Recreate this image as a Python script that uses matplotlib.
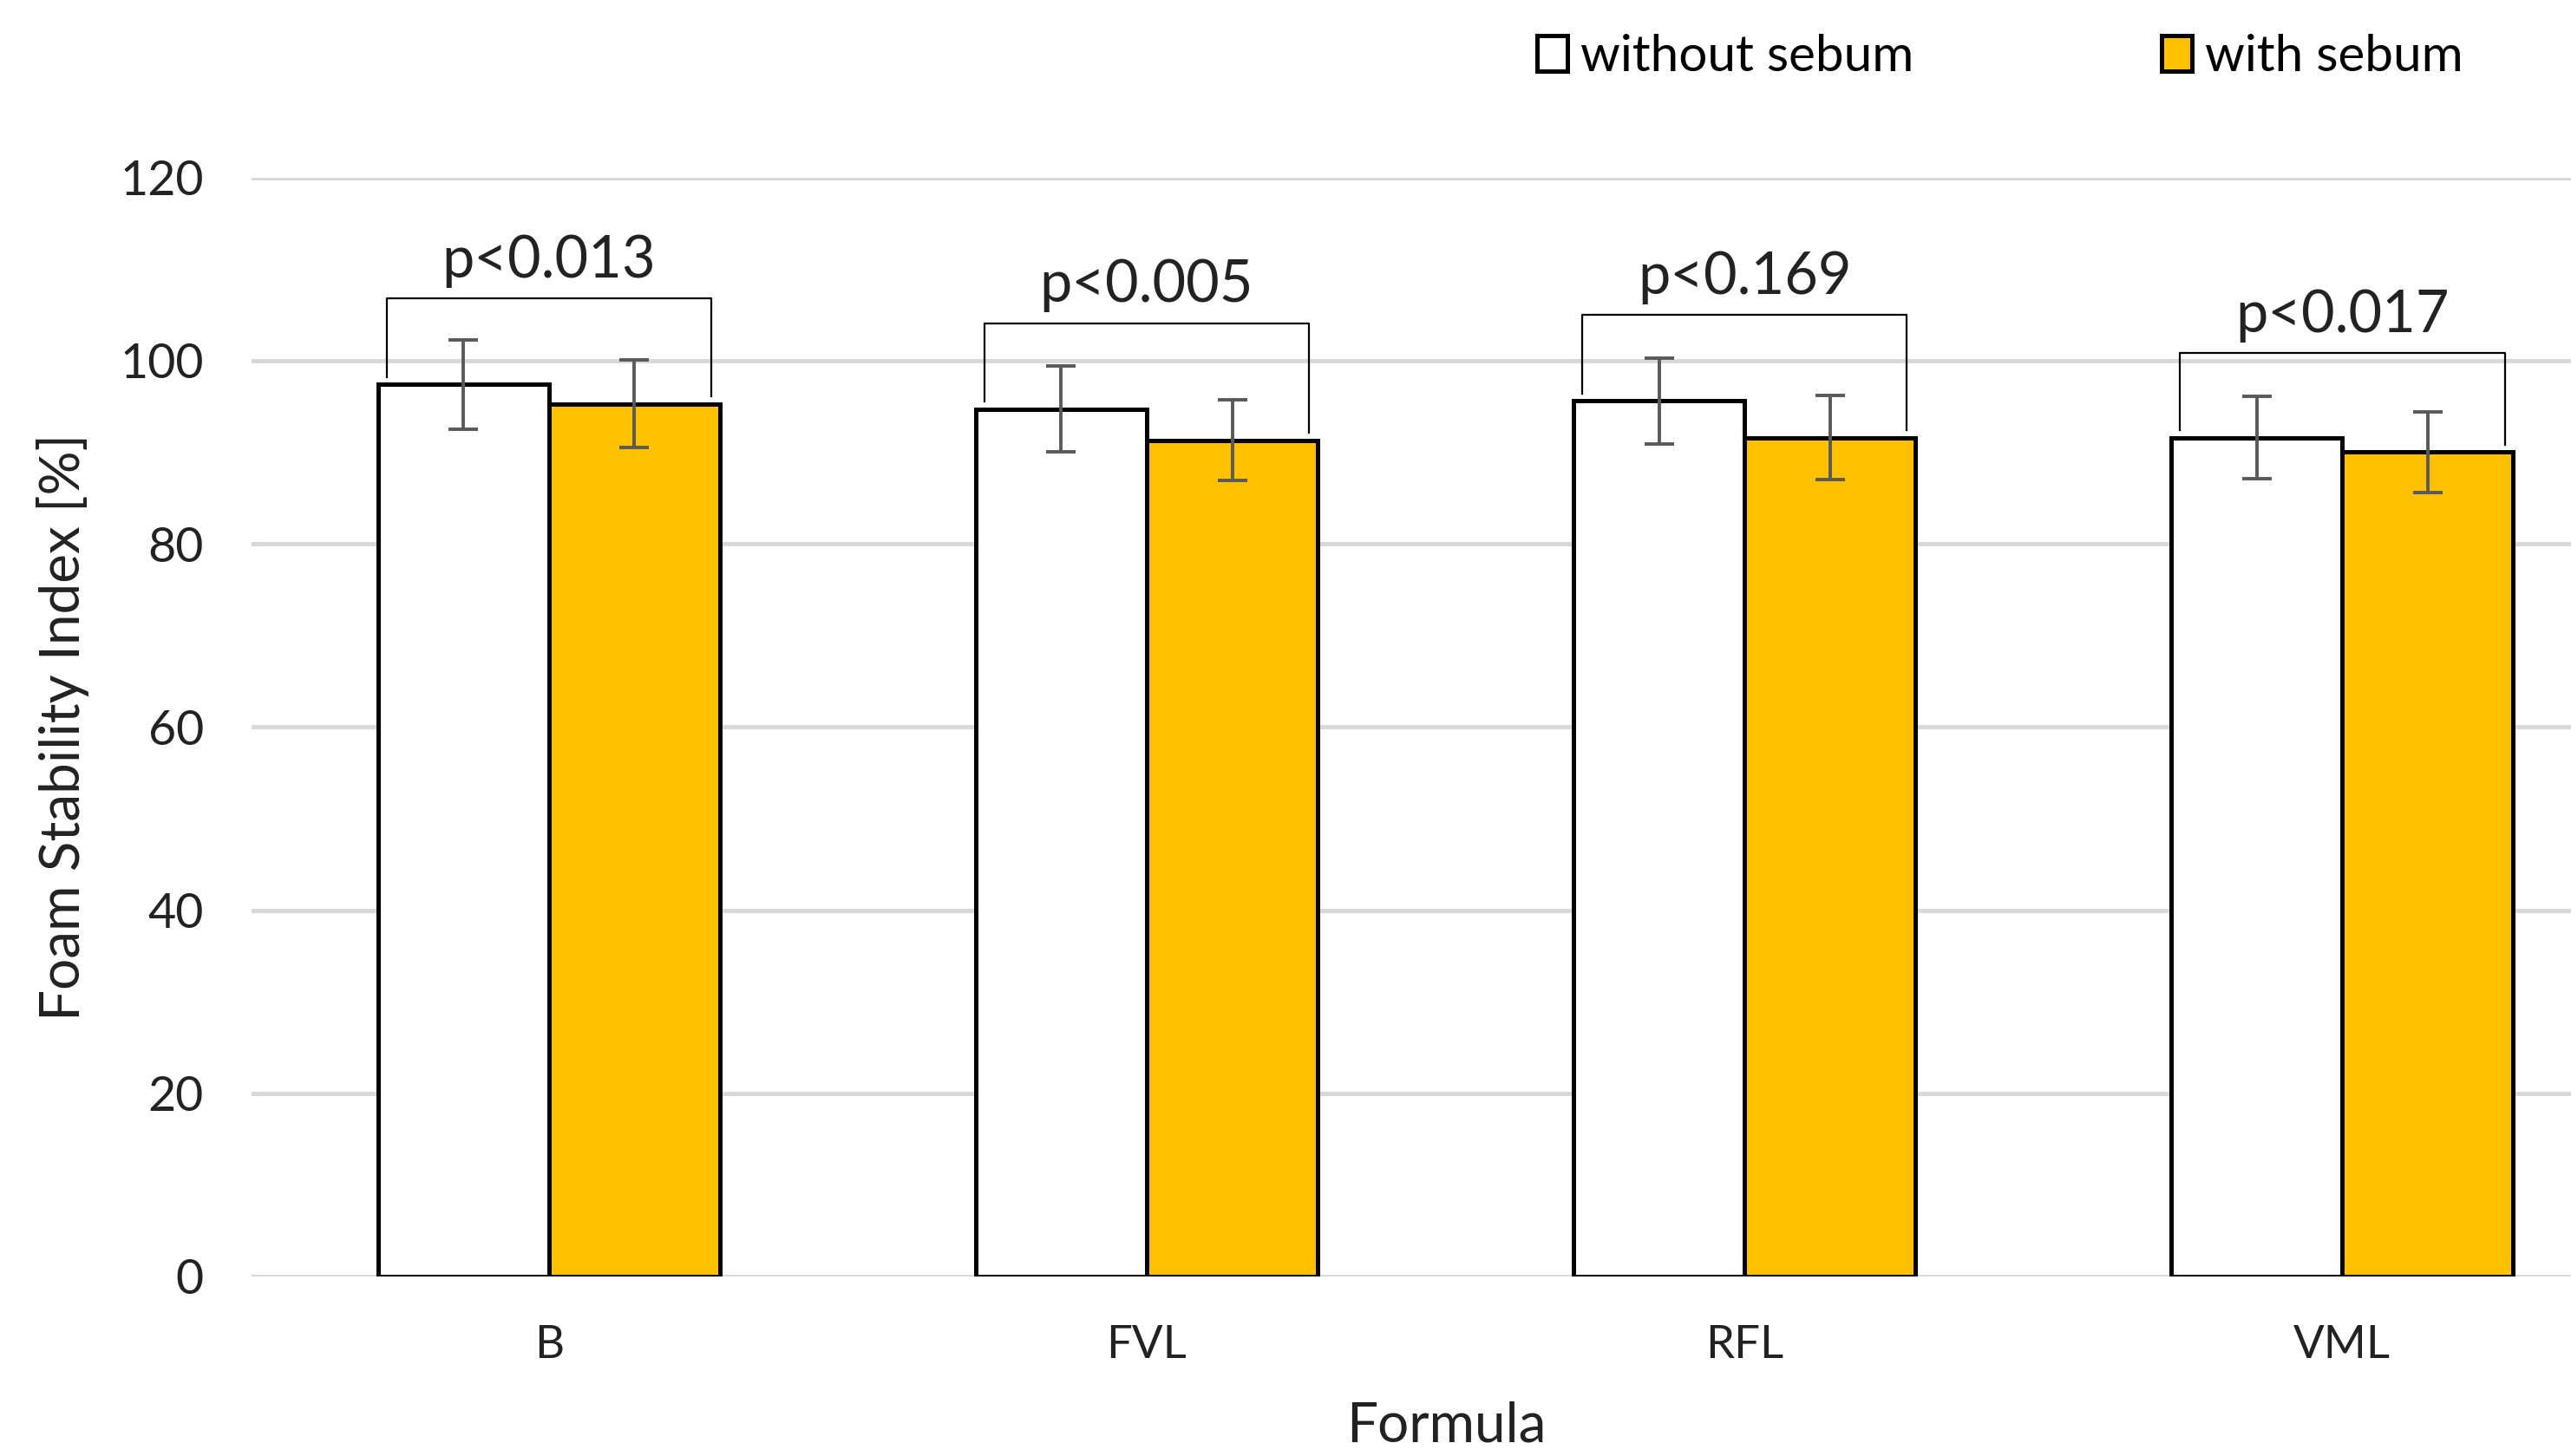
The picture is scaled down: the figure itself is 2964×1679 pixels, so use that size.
import matplotlib.pyplot as plt
import numpy as np
from matplotlib.patches import Patch

plt.rcParams["font.family"] = ["Lato", "DejaVu Sans"]

# Data
formulas = ["B", "FVL", "RFL", "VML"]
without_sebum = [97.4, 94.7, 95.6, 91.6]
without_err = [4.9, 4.7, 4.7, 4.5]
with_sebum = [95.3, 91.3, 91.6, 90.0]
with_err = [4.8, 4.4, 4.6, 4.4]
p_labels = ["p<0.013", "p<0.005", "p<0.169", "p<0.017"]
bracket_tops = [106.8, 104.1, 105.0, 100.8]

x = np.arange(len(formulas))
width = 0.286
orange = "#FFC000"
text_col = "#222222"

fig = plt.figure(figsize=(14.82, 8.395), dpi=200)
ax = fig.add_axes([0.098, 0.1233, 0.902, 0.7548])

ax.bar(x - width / 2, without_sebum, width, color="white", edgecolor="black",
       linewidth=1.8, zorder=3)
ax.bar(x + width / 2, with_sebum, width, color=orange, edgecolor="black",
       linewidth=1.8, zorder=3)
ax.errorbar(x - width / 2, without_sebum, yerr=without_err, fmt="none",
            ecolor="#595959", elinewidth=1.4, capsize=6, capthick=1.4, zorder=4)
ax.errorbar(x + width / 2, with_sebum, yerr=with_err, fmt="none",
            ecolor="#595959", elinewidth=1.4, capsize=6, capthick=1.4, zorder=4)

# significance brackets
for i in range(len(formulas)):
    xl = x[i] - 0.272
    xr = x[i] + 0.272
    top = bracket_tops[i]
    ax.plot([xl, xl, xr, xr],
            [without_sebum[i] + 0.8, top, top, with_sebum[i] + 0.8],
            color="black", linewidth=0.8, zorder=5)
    ax.text(x[i], top + 2.3, p_labels[i], ha="center", va="baseline",
            fontsize=24, color=text_col)

ax.set_ylim(0, 120)
ax.set_xlim(-0.497, 3.383)
ax.set_yticks(np.arange(0, 121, 20))
ax.set_xticks(x)
ax.set_xticklabels(formulas)
ax.grid(axis="y", color="#D9D9D9", linewidth=1.8, zorder=0)
ax.set_axisbelow(True)
for s in ax.spines.values():
    s.set_visible(False)
ax.tick_params(axis="y", length=0, labelsize=20, colors=text_col, pad=20)
ax.tick_params(axis="x", length=0, labelsize=19, colors=text_col, pad=20)
ax.set_ylabel("Foam Stability Index [%]", fontsize=23, color=text_col,
              va="center")
ax.set_xlabel("Formula", fontsize=23, color=text_col, va="center")
ax.yaxis.set_label_coords(-0.0815, 0.5)
ax.xaxis.set_label_coords(0.515, -0.136)

handles = [Patch(facecolor="white", edgecolor="black", linewidth=1.8),
           Patch(facecolor=orange, edgecolor="black", linewidth=1.8)]
fig.legend(handles, ["without sebum", "with sebum"], loc="center left",
           bbox_to_anchor=(0.598, 0.961), ncol=2, frameon=False, fontsize=21,
           handlelength=0.6, handleheight=0.7, handletextpad=0.25,
           columnspacing=4.9, borderpad=0, borderaxespad=0)

fig.savefig("out.png", dpi=200)
